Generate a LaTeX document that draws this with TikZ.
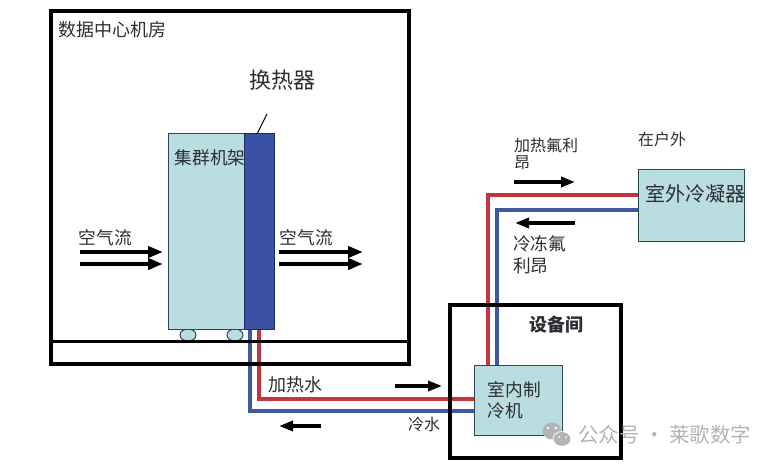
\documentclass[tikz,border=0pt]{standalone}
\usepackage{fontspec}
\setmainfont{Noto Sans CJK SC}
\usetikzlibrary{arrows.meta,shapes.geometric}
\definecolor{boxfill}{HTML}{B9DDE0}
\definecolor{boxedge}{HTML}{2A4A50}
\definecolor{hxfill}{HTML}{3A52A4}
\definecolor{hxedge}{HTML}{1C2C66}
\definecolor{hotpipe}{HTML}{C2373D}
\definecolor{coldpipe}{HTML}{40589F}
\definecolor{inktext}{HTML}{2B2F33}
\definecolor{markgray}{HTML}{B4B4B4}
\tikzset{
  wall/.style={draw=black,line width=3.6pt,fill=none,inner sep=0pt},
  unit/.style={draw=boxedge,line width=1pt,fill=boxfill,inner sep=0pt},
  hxunit/.style={draw=hxedge,line width=1pt,fill=hxfill,inner sep=0pt},
  wheel/.style={ellipse,draw=boxedge,line width=1pt,fill=boxfill,minimum width=16pt,minimum height=12pt,inner sep=0pt},
  hot/.style={draw=hotpipe,line width=3.6pt,line join=miter},
  cold/.style={draw=coldpipe,line width=3.6pt,line join=miter},
  flow/.style={draw=black,line width=4pt,-{Triangle[length=15pt,width=11pt]}},
  flowthin/.style={draw=black,line width=3.4pt,-{Triangle[length=14pt,width=10pt]}},
  lbl/.style={anchor=west,inner sep=0pt,text=inktext,align=left},
}
\newcommand{\fs}[1]{\fontsize{#1}{#1}\selectfont}
\begin{document}
\begin{tikzpicture}[x=1pt,y=-1pt]
\useasboundingbox[fill=white] (0,0) rectangle (776,465);
% units (positions in reference pixels)
\node[wheel] (wheelA) at (188,335) {};
\node[wheel] (wheelB) at (235,335) {};
\node[unit,minimum width=77pt,minimum height=195pt] (rack) at (206.5,231.5) {};
\node[hxunit,minimum width=30pt,minimum height=195pt] (hx) at (259,231.5) {};
% free pipe corners
\coordinate (blueLow) at (250,411);
\coordinate (redLow) at (259,399);
\coordinate (redUp) at (488,195);
\coordinate (blueUp) at (497,210);
\node[unit,minimum width=88pt,minimum height=70pt] (chiller) at (518,400) {};
\node[unit,minimum width=106pt,minimum height=71pt] (cond) at (691,205.5) {};
% pipes
\draw[cold] (blueLow |- hx.south) -- (blueLow) -- (blueLow -| chiller.west);
\draw[hot] (redLow |- hx.south) -- (redLow) -- (redLow -| chiller.west);
\draw[hot] (redUp |- chiller.north) -- (redUp) -- (redUp -| cond.west);
\draw[cold] (blueUp |- chiller.north) -- (blueUp) -- (blueUp -| cond.west);
% walls
\node[wall,minimum width=358pt,minimum height=353pt] (room) at (230,187.5) {};
\coordinate (floorL) at (51,341);
\draw[black,line width=3pt] (floorL) -- (floorL -| room.east);
\node[wall,minimum width=171pt,minimum height=153pt] (plant) at (535.5,381.5) {};
% leader
\coordinate (leaderTop) at (267,114);
\draw[black,line width=1pt] (257,134) -- (leaderTop);
% arrows
\coordinate (a1s) at (80,252); \coordinate (a1e) at (163,252);
\coordinate (a2s) at (80,264); \coordinate (a2e) at (163,264);
\coordinate (a3s) at (279,252); \coordinate (a3e) at (363,252);
\coordinate (a4s) at (279,264); \coordinate (a4e) at (363,264);
\draw[flow] (a1s) -- (a1e);
\draw[flow] (a2s) -- (a2e);
\draw[flow] (a3s) -- (a3e);
\draw[flow] (a4s) -- (a4e);
\coordinate (a5s) at (395,386); \coordinate (a5e) at (442,386);
\coordinate (a6s) at (321,426); \coordinate (a6e) at (279,426);
\coordinate (a7s) at (514,182); \coordinate (a7e) at (575,182);
\coordinate (a8s) at (575,223); \coordinate (a8e) at (515,223);
\draw[flowthin] (a5s) -- (a5e);
\draw[flowthin] (a6s) -- (a6e);
\draw[flowthin] (a7s) -- (a7e);
\draw[flowthin] (a8s) -- (a8e);
% labels
\node[lbl] (tRoom) at (58,30) {\fs{18}数据中心机房};
\node[lbl] (tHx) at (249,80) {\fs{22}换热器};
\node[lbl] (tRack) at (174.5,158) {\fs{17.7}集群机架};
\node[lbl] (tAirL) at (78.5,238) {\fs{17.7}空气流};
\node[lbl] (tAirR) at (279.5,238) {\fs{17.7}空气流};
\node[lbl] (tHotW) at (268,385) {\fs{18}加热水};
\node[lbl] (tColdW) at (408,424) {\fs{16}冷水};
\node[lbl] (tPlant) at (529.5,325) {\fs{18}\bfseries 设备间};
\node[lbl] (tCh1) at (487.5,390) {\fs{17.7}室内制};
\node[lbl] (tCh2) at (487.5,411) {\fs{17.7}冷机};
\node[lbl] (tHotF1) at (514,145) {\fs{16}加热氟利};
\node[lbl] (tHotF2) at (514,163) {\fs{16}昂};
\node[lbl] (tOut) at (638,139) {\fs{16}在户外};
\node[lbl] (tCond) at (645,194) {\fs{20}室外冷凝器};
\node[lbl] (tColdF1) at (513,244) {\fs{17.7}冷冻氟};
\node[lbl] (tColdF2) at (513,266) {\fs{17.7}利昂};
% watermark
\fill[markgray] (552,431) ellipse (9.5pt and 8.5pt);
\fill[markgray] (562,439) ellipse (8.5pt and 7pt);
\draw[white,line width=.8pt] (562,439) ellipse (9pt and 7.5pt);
\fill[white] (548,428) circle (1.3pt) (556,428) circle (1.3pt);
\fill[white] (559,437) circle (1pt) (566,437) circle (1pt);
\node[lbl,text=markgray] (tMark) at (578,435) {\fs{20.5}公众号 · 莱歌数字};
\end{tikzpicture}
\end{document}
